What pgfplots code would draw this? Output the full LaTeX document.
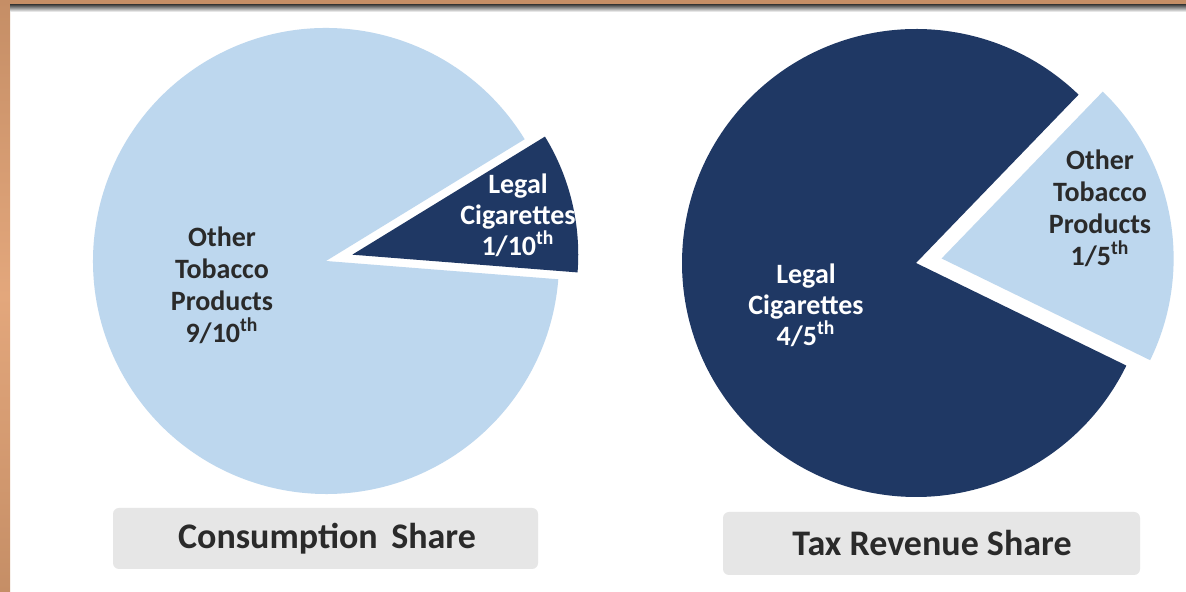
\documentclass[border=0pt]{standalone}
\usepackage{pgfplots}
\pgfplotsset{compat=1.18}
\usepackage{fontspec}
\setmainfont{Carlito}
\definecolor{lightb}{HTML}{BDD7EE}
\definecolor{navy}{HTML}{1F3864}
\definecolor{boxg}{HTML}{E6E6E6}
\definecolor{brownA}{HTML}{C58E66}
\definecolor{brownB}{HTML}{E3A77C}
\definecolor{txtd}{HTML}{2A2A2A}
% shares (percent)
\def\consLegal{10}\def\consOther{90}
\def\taxLegal{80}\def\taxOther{20}
\begin{document}
\begin{tikzpicture}
\begin{axis}[width=593pt,height=296pt,scale only axis,
  xmin=0,xmax=1186,ymin=0,ymax=592,hide axis,clip=false]
% background
\fill[white] (0,0) rectangle (1186,592);
% ---- left pie: consumption share
\pgfmathsetmacro{\aA}{-4.5}
\pgfmathsetmacro{\aB}{\aA+3.6*\consLegal}
\pgfmathsetmacro{\aC}{\aB+3.6*\consOther}
\pgfmathsetmacro{\mid}{(\aA+\aB)/2}
\fill[lightb] (326,331) -- ++(\aB:116.5pt) arc[start angle=\aB,end angle=\aC,radius=116.5pt] -- cycle;
\fill[navy] (326,331) ++(\mid:13.5pt) -- ++(\aA:113pt) arc[start angle=\aA,end angle=\aB,radius=113pt] -- cycle;
% ---- right pie: tax revenue share
\pgfmathsetmacro{\bA}{-26}
\pgfmathsetmacro{\bB}{\bA+3.6*\taxOther}
\pgfmathsetmacro{\bC}{\bB+3.6*\taxLegal}
\pgfmathsetmacro{\midb}{(\bA+\bB)/2}
\fill[navy] (916,329) -- ++(\bB:117pt) arc[start angle=\bB,end angle=\bC,radius=117pt] -- cycle;
\fill[lightb] (916,329) ++(\midb:13pt) -- ++(\bA:116pt) arc[start angle=\bA,end angle=\bB,radius=116pt] -- cycle;
% ---- slice labels
\node[align=center,text=txtd,font=\bfseries\fontsize{14}{16}\selectfont] at (222,307) {Other\\Tobacco\\Products\\9/10\textsuperscript{th}};
\begin{scope}
\clip (326,331) ++(\mid:13.5pt) -- ++(\aA:113pt) arc[start angle=\aA,end angle=\aB,radius=113pt] -- cycle;
\node[align=center,text=white,font=\bfseries\fontsize{14}{15.5}\selectfont] at (518,377) {Legal\\Cigarettes\\1/10\textsuperscript{th}};
\end{scope}
\node[align=center,text=white,font=\bfseries\fontsize{14}{15.5}\selectfont] at (806,287) {Legal\\Cigarettes\\4/5\textsuperscript{th}};
\node[align=center,text=txtd,font=\bfseries\fontsize{14}{16}\selectfont] at (1100,384) {Other\\Tobacco\\Products\\1/5\textsuperscript{th}};
% ---- title boxes
\fill[boxg,rounded corners=3pt] (113,23) rectangle (538,84);
\fill[boxg,rounded corners=3pt] (723,17) rectangle (1140,80);
\node[text=txtd,font=\bfseries\fontsize{18}{22}\selectfont] at (327,53) {Consumption\hspace{0.15em} Share};
\node[text=txtd,font=\bfseries\fontsize{18}{22}\selectfont] at (932,49) {Tax Revenue Share};
% ---- frame
\shade[top color=brownA,bottom color=brownA,middle color=brownB] (0,0) rectangle (10,592);
\fill[brownA] (0,587) rectangle (1186,592);
\shade[top color=black!75,bottom color=white] (10,580) rectangle (1186,587.5);
\end{axis}
\pgfresetboundingbox
\useasboundingbox (current axis.south west) rectangle (current axis.north east);
\end{tikzpicture}
\end{document}
